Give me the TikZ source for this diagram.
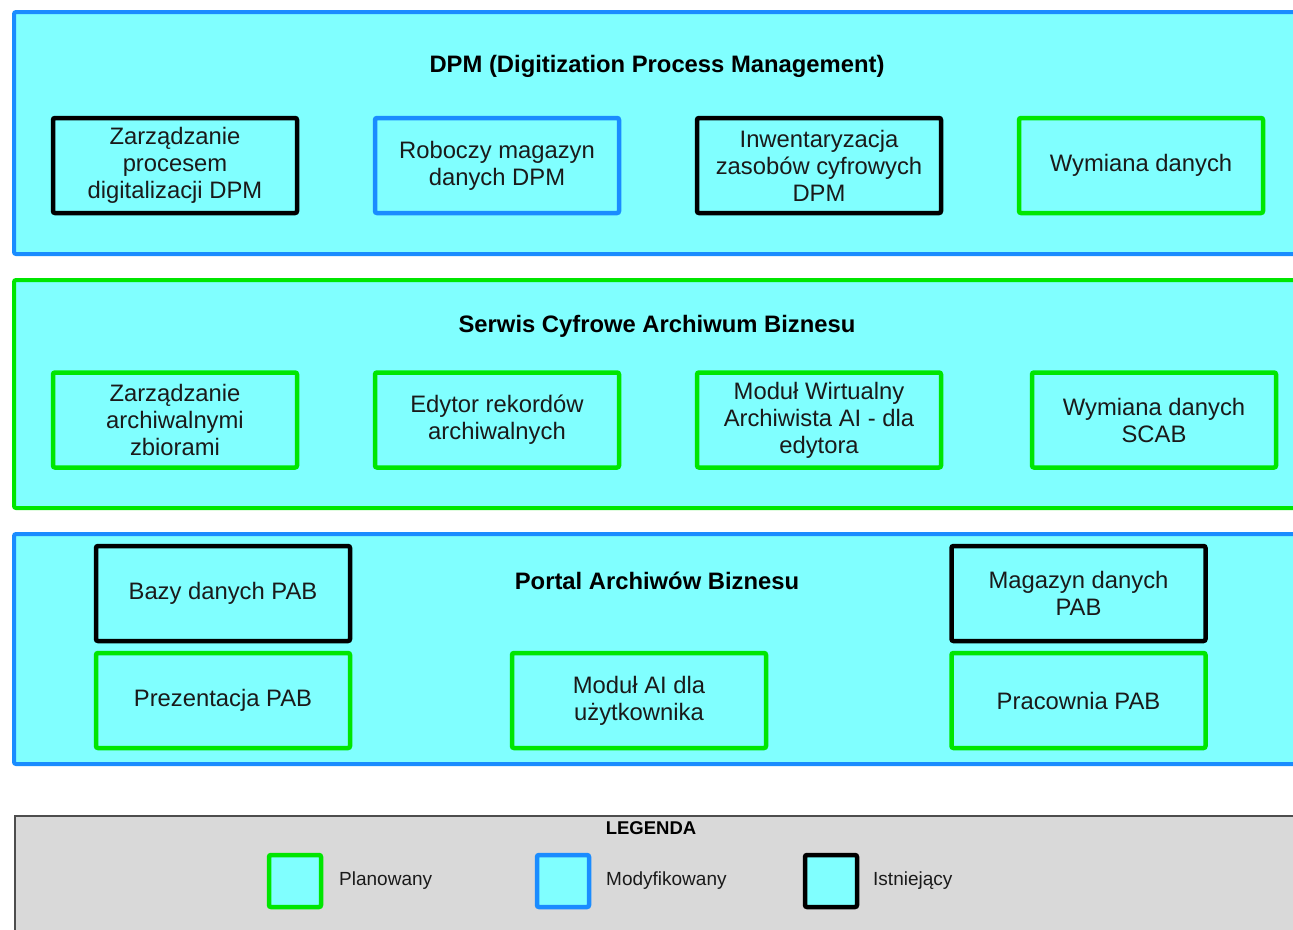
\documentclass[tikz,border=0pt]{standalone}
\usepackage{fontspec}
\setmainfont{Liberation Sans}
\definecolor{cyanfill}{HTML}{80FFFF}
\definecolor{gbord}{HTML}{00E600}
\definecolor{bbord}{HTML}{1A8CFF}
\definecolor{kbord}{HTML}{000000}
\definecolor{legfill}{HTML}{D9D9D9}
\definecolor{legbord}{HTML}{4D4D4D}
\definecolor{txt}{HTML}{1A1A1A}
\tikzset{
  x=1pt, y=-1pt,
  layer/.style={draw, line width=4pt, fill=cyanfill, rounded corners=2pt, anchor=north west, inner sep=0pt},
  comp/.style={draw, line width=4.5pt, fill=cyanfill, rounded corners=2pt, minimum width=#1, minimum height=95pt, inner sep=0pt, align=center, text=txt, font=\fontsize{23.8}{27}\selectfont},
  comp/.default=244pt,
  ttl/.style={font=\bfseries\fontsize{23.8}{27}\selectfont, text=black},
  legsq/.style={draw, line width=4.5pt, fill=cyanfill, rounded corners=2pt, minimum width=52pt, minimum height=52pt, inner sep=0pt},
  leglab/.style={anchor=west, font=\fontsize{19}{22}\selectfont, text=txt, inner sep=0pt},
}
\begin{document}
\begin{tikzpicture}
\useasboundingbox (0,0) rectangle (1293,929);
% layers
\node[layer, draw=bbord, minimum width=1300pt, minimum height=242pt] (L1) at (12,10) {};
\node[layer, draw=gbord, minimum width=1300pt, minimum height=228pt] (L2) at (12,278) {};
\node[layer, draw=bbord, minimum width=1300pt, minimum height=230pt] (L3) at (12,532) {};
% titles
\node[ttl] (T1) at (657,66) {DPM (Digitization Process Management)};
\node[ttl] (T2) at (657,326) {Serwis Cyfrowe Archiwum Biznesu};
\node[ttl] (T3) at (657,581) {Portal Archiwów Biznesu};
% row 1
\node[comp, draw=kbord] (a1) at (175,165.5) {Zarządzanie\\procesem\\digitalizacji DPM};
\node[comp, draw=bbord] (a2) at (497,165.5) {Roboczy magazyn\\danych DPM};
\node[comp, draw=kbord] (a3) at (819,165.5) {Inwentaryzacja\\zasobów cyfrowych\\DPM};
\node[comp, draw=gbord] (a4) at (1141,165.5) {Wymiana danych};
% row 2
\node[comp, draw=gbord] (b1) at (175,420) {Zarządzanie\\archiwalnymi\\zbiorami};
\node[comp, draw=gbord] (b2) at (497,420) {Edytor rekordów\\archiwalnych};
\node[comp, draw=gbord] (b3) at (819,420) {Moduł Wirtualny\\Archiwista AI - dla\\edytora};
\node[comp, draw=gbord] (b4) at (1154,420) {Wymiana danych\\SCAB};
% row 3
\node[comp=254pt, draw=kbord] (c1) at (223,593.5) {Bazy danych PAB};
\node[comp=254pt, draw=kbord] (c2) at (1078.5,593.5) {Magazyn danych\\PAB};
\node[comp=254pt, draw=gbord] (c3) at (223,700.5) {Prezentacja PAB};
\node[comp=254pt, draw=gbord] (c4) at (639,700.5) {Moduł AI dla\\użytkownika};
\node[comp=254pt, draw=gbord] (c5) at (1078.5,700.5) {Pracownia PAB};
% legend
\node[draw=legbord, line width=2pt, fill=legfill, anchor=north west, minimum width=1300pt, minimum height=130pt, inner sep=0pt] (LG) at (14,815) {};
\node[font=\bfseries\fontsize{18.5}{21}\selectfont, text=black] (LT) at (651,828) {LEGENDA};
\node[legsq, draw=gbord] (s1) at (295,881) {};
\node[legsq, draw=bbord] (s2) at (563,881) {};
\node[legsq, draw=kbord] (s3) at (831,881) {};
\node[leglab] (l1) at (339,881) {Planowany};
\node[leglab] (l2) at (606,881) {Modyfikowany};
\node[leglab] (l3) at (873,881) {Istniejący};
\end{tikzpicture}
\end{document}
